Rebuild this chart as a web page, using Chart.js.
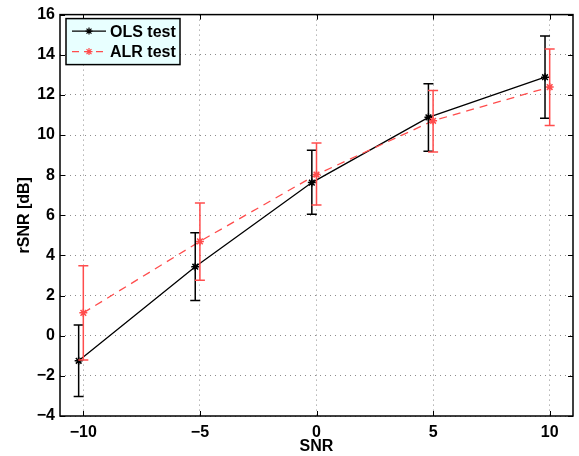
<!DOCTYPE html>
<html>
<head>
<meta charset="utf-8">
<script src="https://cdn.jsdelivr.net/npm/chart.js@4.4.0/dist/chart.umd.min.js"></script>
<style>
  html, body { margin: 0; padding: 0; background: #fff; }
  canvas { display: block; }
</style>
</head>
<body>
<canvas id="rsnrChart" width="579" height="456"></canvas>
<script>
// SNR test points and tick positions
const snrTicks = [-10, -5, 0, 5, 10];
const rsnrTicks = [-4, -2, 0, 2, 4, 6, 8, 10, 12, 14, 16];

// OLS test: mean rSNR with lower / upper error limits
const olsSnr = [-10.2, -5.2, -0.2, 4.8, 9.8];
const olsMean = [-1.25, 3.44, 7.63, 10.88, 12.88];
const olsLow = [-3.03, 1.75, 6.05, 9.19, 10.84];
const olsHigh = [0.53, 5.13, 9.24, 12.55, 14.93];

// ALR test
const alrSnr = [-10, -5, 0, 5, 10];
const alrMean = [1.14, 4.70, 8.03, 10.71, 12.39];
const alrLow = [-1.21, 2.76, 6.51, 9.15, 10.47];
const alrHigh = [3.49, 6.61, 9.60, 12.22, 14.28];

const OLS_COLOR = '#000000';
const ALR_COLOR = '#ff4d4d';
const FONT = { family: "'Liberation Sans', Arial, Helvetica, sans-serif", size: 16, weight: 'bold' };

function toPoints(xs, ys) {
    return xs.map((x, i) => ({ x: x, y: ys[i] }));
}

function minusSign(v) {
    return String(v).replace('-', '\u2212');
}

// error bars with caps, drawn through the chart scales
const errorBars = {
    id: 'errorBars',
    afterDatasetsDraw(chart) {
        const ctx = chart.ctx;
        const xs = chart.scales.x, ys = chart.scales.y;
        const sets = [
            { snr: olsSnr, low: olsLow, high: olsHigh, color: OLS_COLOR },
            { snr: alrSnr, low: alrLow, high: alrHigh, color: ALR_COLOR }
        ];
        ctx.save();
        ctx.lineWidth = 1.5;
        sets.forEach(s => {
            ctx.strokeStyle = s.color;
            s.snr.forEach((x, i) => {
                const px = xs.getPixelForValue(x);
                const top = ys.getPixelForValue(s.high[i]);
                const bot = ys.getPixelForValue(s.low[i]);
                ctx.beginPath();
                ctx.moveTo(px, top);
                ctx.lineTo(px, bot);
                ctx.moveTo(px - 5, top);
                ctx.lineTo(px + 5, top);
                ctx.moveTo(px - 5, bot);
                ctx.lineTo(px + 5, bot);
                ctx.stroke();
            });
        });
        ctx.restore();
    }
};

// axes box with inward tick marks on all four sides
const axesBox = {
    id: 'axesBox',
    afterDraw(chart) {
        const ctx = chart.ctx;
        const a = chart.chartArea;
        const xs = chart.scales.x, ys = chart.scales.y;
        const len = 5;
        ctx.save();
        ctx.strokeStyle = '#000';
        ctx.lineWidth = 1;
        ctx.beginPath();
        snrTicks.forEach(v => {
            const px = Math.round(xs.getPixelForValue(v)) + 0.5;
            ctx.moveTo(px, a.bottom); ctx.lineTo(px, a.bottom - len);
            ctx.moveTo(px, a.top); ctx.lineTo(px, a.top + len);
        });
        rsnrTicks.forEach(v => {
            const py = Math.round(ys.getPixelForValue(v)) + 0.5;
            ctx.moveTo(a.left, py); ctx.lineTo(a.left + len, py);
            ctx.moveTo(a.right, py); ctx.lineTo(a.right - len, py);
        });
        ctx.stroke();
        ctx.lineWidth = 1.5;
        ctx.strokeRect(a.left, a.top, a.right - a.left, a.bottom - a.top);
        ctx.restore();
    }
};

// boxed legend in the upper left corner
const boxLegend = {
    id: 'boxLegend',
    afterDraw(chart) {
        const ctx = chart.ctx;
        const a = chart.chartArea;
        const x0 = a.left + 6, y0 = a.top + 4, w = 114, h = 46;
        const entries = [
            { label: 'OLS test', color: OLS_COLOR, dash: [] },
            { label: 'ALR test', color: ALR_COLOR, dash: [7, 5] }
        ];
        ctx.save();
        ctx.fillStyle = 'rgb(232,255,255)';
        ctx.fillRect(x0, y0, w, h);
        ctx.strokeStyle = '#000';
        ctx.lineWidth = 1.5;
        ctx.strokeRect(x0, y0, w, h);
        ctx.font = 'bold 16px ' + FONT.family;
        ctx.textBaseline = 'middle';
        entries.forEach((e, i) => {
            const y = y0 + 12.5 + i * 20.5;
            ctx.strokeStyle = e.color;
            ctx.lineWidth = 1.2;
            ctx.setLineDash(e.dash);
            ctx.beginPath();
            ctx.moveTo(x0 + 6, y);
            ctx.lineTo(x0 + 40, y);
            ctx.stroke();
            ctx.setLineDash([]);
            Chart.helpers.drawPoint(ctx, { pointStyle: 'star', radius: 3.5, borderWidth: 1.3 }, x0 + 23, y);
            ctx.fillStyle = '#000';
            ctx.fillText(e.label, x0 + 44, y + 1);
        });
        ctx.restore();
    }
};

const gridStyle = {
    color: '#8c8c8c',
    lineWidth: 1,
    drawTicks: false,
    drawOnChartArea: true
};

new Chart(document.getElementById('rsnrChart').getContext('2d'), {
    type: 'scatter',
    data: {
        datasets: [
            {
                label: 'OLS test',
                data: toPoints(olsSnr, olsMean),
                showLine: true,
                borderColor: OLS_COLOR,
                backgroundColor: OLS_COLOR,
                borderWidth: 1.3,
                pointStyle: 'star',
                pointRadius: 4,
                pointBorderWidth: 1.5,
                order: 1
            },
            {
                label: 'ALR test',
                data: toPoints(alrSnr, alrMean),
                showLine: true,
                borderColor: ALR_COLOR,
                backgroundColor: ALR_COLOR,
                borderWidth: 1.3,
                borderDash: [8, 6],
                pointStyle: 'star',
                pointRadius: 4,
                pointBorderWidth: 1.5,
                order: 0
            }
        ]
    },
    options: {
        responsive: false,
        animation: false,
        events: [],
        layout: { padding: { top: 10, right: 6, left: 0, bottom: 0 } },
        plugins: {
            legend: { display: false },
            tooltip: { enabled: false }
        },
        scales: {
            x: {
                type: 'linear',
                min: -11,
                max: 11,
                afterBuildTicks(scale) {
                    scale.ticks = snrTicks.map(v => ({ value: v }));
                },
                afterFit(scale) { scale.height = 40; },
                grid: Object.assign({}, gridStyle),
                border: { display: false, dash: [1, 4] },
                ticks: {
                    color: '#000',
                    font: FONT,
                    padding: 7,
                    maxRotation: 0,
                    callback: v => minusSign(v)
                },
                title: {
                    display: true,
                    text: 'SNR',
                    color: '#000',
                    font: FONT,
                    padding: { top: 0, bottom: 0 }
                }
            },
            y: {
                type: 'linear',
                min: -4,
                max: 16,
                afterBuildTicks(scale) {
                    scale.ticks = rsnrTicks.map(v => ({ value: v }));
                },
                afterFit(scale) { scale.width = 60; },
                grid: Object.assign({}, gridStyle),
                border: { display: false, dash: [1, 4] },
                ticks: {
                    color: '#000',
                    font: FONT,
                    padding: 5,
                    callback: v => minusSign(v)
                },
                title: {
                    display: true,
                    text: 'rSNR [dB]',
                    color: '#000',
                    font: FONT,
                    padding: { top: 15, bottom: 0 }
                }
            }
        }
    },
    plugins: [errorBars, axesBox, boxLegend]
});
</script>
</body>
</html>
